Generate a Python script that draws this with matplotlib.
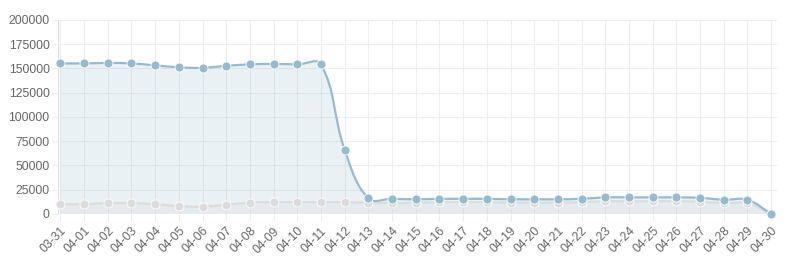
import numpy as np
import matplotlib
matplotlib.use("Agg")
import matplotlib.pyplot as plt
from matplotlib.path import Path
from matplotlib.patches import PathPatch

days = ["03-31"] + ["04-%02d" % d for d in range(1, 31)]

total = [155000, 155000, 155500, 155000, 153000, 151000, 150500, 152500,
         154000, 154500, 154000, 154000, 66000, 16000, 15500, 15000,
         15500, 15500, 15500, 15000, 15000, 15000, 15500, 17000, 17000,
         17000, 17000, 16500, 14500, 14500, 0]

other = [10000, 10000, 11000, 11000, 10000, 8000, 7500, 9500, 11500,
         12000, 12000, 12000, 12000, 11500, 11000, 11500, 12000, 12000,
         12000, 11500, 11500, 11500, 12000, 13000, 13000, 13000, 13000,
         12500, 11000, 11000, 0]

BLUE = (151/255, 187/255, 205/255)
GREY = (220/255, 220/255, 220/255)

fig = plt.figure(figsize=(7.99, 2.67), dpi=100)
ax = fig.add_axes([0.0726, 0.199, 0.9, 0.727])
ax.set_xlim(-0.1, 30.25)
ax.set_ylim(0, 200000)


def spline_path(xs, ys, tension=0.4):
    # control points like Chart.js 1.x, computed in pixel space
    pts = ax.transData.transform(np.column_stack([xs, ys]))
    ybot = ax.transData.transform((0, 0))[1]
    ytop = ax.transData.transform((0, 200000))[1]
    n = len(pts)
    inner, outer = [], []
    for i in range(n):
        p0 = pts[i - 1] if i > 0 else pts[i]
        p1 = pts[i]
        p2 = pts[i + 1] if i < n - 1 else pts[i]
        d01 = np.hypot(*(p1 - p0))
        d12 = np.hypot(*(p2 - p1))
        s = d01 + d12
        fa = tension * d01 / s if s else 0
        fb = tension * d12 / s if s else 0
        a = p1 - fa * (p2 - p0)
        b = p1 + fb * (p2 - p0)
        a[1] = min(max(a[1], ybot), ytop)
        b[1] = min(max(b[1], ybot), ytop)
        inner.append(a)
        outer.append(b)
    verts = [pts[0]]
    codes = [Path.MOVETO]
    for i in range(1, n):
        verts += [outer[i - 1], inner[i], pts[i]]
        codes += [Path.CURVE4] * 3
    inv = ax.transData.inverted()
    return inv.transform(np.array(verts)), codes


x = np.arange(len(days))
for vals, col in [(other, GREY), (total, BLUE)]:
    verts, codes = spline_path(x, vals)
    fill_v = np.vstack([verts, [[x[-1], 0], [x[0], 0], verts[0]]])
    fill_c = codes + [Path.LINETO, Path.LINETO, Path.CLOSEPOLY]
    ax.add_patch(PathPatch(Path(fill_v, fill_c), facecolor=col + (0.2,),
                           edgecolor="none", zorder=2))
    ax.add_patch(PathPatch(Path(verts, codes), facecolor="none",
                           edgecolor=col, lw=1.6, zorder=3))
    ax.plot(x, vals, "o", ms=6.5, color=col, mec="white", mew=0.6,
            zorder=4, clip_on=False)

ax.set_xticks(x)
ax.set_xticklabels(days, rotation=45, ha="right", rotation_mode="anchor",
                   fontsize=8.7, color="#666666", family="Liberation Sans")
ax.set_yticks(np.arange(0, 200001, 25000))
ax.set_yticklabels([str(v) for v in range(0, 200001, 25000)],
                   fontsize=8.7, color="#666666", family="Liberation Sans")
ax.grid(True, color="#eeeeee", lw=0.8, zorder=0)
ax.tick_params(axis="x", length=5, color="#eeeeee", pad=3)
ax.tick_params(axis="y", length=4, color="#eeeeee", pad=2)
for s in ax.spines.values():
    s.set_visible(False)
ax.axhline(0, color="#dddddd", lw=0.8, zorder=1)
ax.axvline(-0.1, color="#dddddd", lw=0.8, zorder=1)

fig.savefig("out.png", dpi=100)
